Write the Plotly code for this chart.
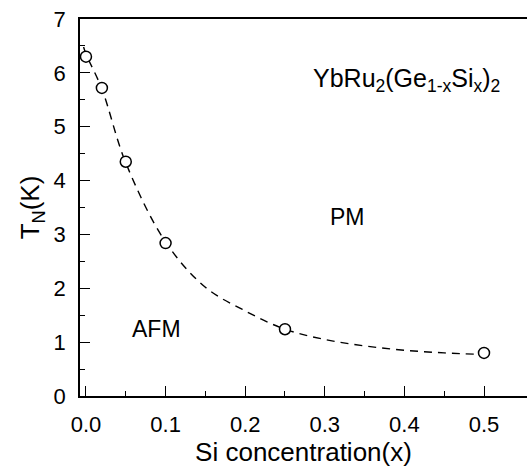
import plotly.graph_objects as go

# measured data points
si_x = [0.0, 0.02, 0.05, 0.10, 0.25, 0.50]
tn_k = [6.30, 5.72, 4.35, 2.84, 1.24, 0.80]

# dashed guide curve
fit_x = [-0.003, 0.0, 0.02, 0.05, 0.10, 0.15, 0.20, 0.25, 0.30, 0.35, 0.40, 0.45, 0.50]
fit_y = [6.48, 6.35, 5.70, 4.33, 2.86, 2.02, 1.58, 1.24, 1.05, 0.93, 0.85, 0.80, 0.77]

x_ticks = [0.0, 0.1, 0.2, 0.3, 0.4, 0.5]
x_tick_labels = ["0.0", "0.1", "0.2", "0.3", "0.4", "0.5"]
x_minor = [0.05, 0.15, 0.25, 0.35, 0.45]
y_ticks = [0, 1, 2, 3, 4, 5, 6, 7]
y_minor = [0.5, 1.5, 2.5, 3.5, 4.5, 5.5, 6.5]

FONT = "Liberation Sans, Arial, sans-serif"

fig = go.Figure()
fig.add_trace(go.Scatter(
    x=fit_x, y=fit_y, mode="lines", line_shape="spline",
    line=dict(color="black", width=1.4, dash="8px,6px"),
    showlegend=False, hoverinfo="skip"))
fig.add_trace(go.Scatter(
    x=si_x, y=tn_k, mode="markers",
    marker=dict(symbol="circle", size=11, color="white",
                line=dict(color="black", width=1.5)),
    showlegend=False))

fig.add_annotation(x=0.402, y=5.86, xref="x", yref="y",
                   text="YbRu<sub>2</sub>(Ge<sub>1-x</sub>Si<sub>x</sub>)<sub>2</sub>",
                   showarrow=False, font=dict(family=FONT, size=25, color="black"))
fig.add_annotation(x=0.329, y=3.32, xref="x", yref="y", text="PM",
                   showarrow=False, font=dict(family=FONT, size=23, color="black"))
fig.add_annotation(x=0.089, y=1.24, xref="x", yref="y", text="AFM",
                   showarrow=False, font=dict(family=FONT, size=23, color="black"))

fig.update_layout(
    width=527, height=469,
    margin=dict(l=80, r=0, t=19, b=73),
    paper_bgcolor="white", plot_bgcolor="white",
    font=dict(family=FONT, size=22, color="black"),
)
fig.update_xaxes(
    range=[-0.0075, 0.554], showgrid=False, zeroline=False,
    showline=True, linecolor="black", linewidth=1.5, mirror=True,
    ticks="inside", ticklen=10, tickwidth=1.3, tickcolor="black",
    tickvals=x_ticks, ticktext=x_tick_labels,
    tickfont=dict(size=22), ticklabelstandoff=8,
    minor=dict(tickvals=x_minor, ticks="inside", ticklen=5, tickwidth=1.3, tickcolor="black"),
    title=dict(text="Si concentration(x)", font=dict(size=26), standoff=4),
)
fig.update_yaxes(
    range=[0, 7], showgrid=False, zeroline=False,
    showline=True, linecolor="black", linewidth=1.5, mirror=False,
    ticks="inside", ticklen=10, tickwidth=1.3, tickcolor="black",
    tickvals=y_ticks, tickfont=dict(size=22), ticklabelstandoff=8,
    minor=dict(tickvals=y_minor, ticks="inside", ticklen=5, tickwidth=1.3, tickcolor="black"),
    title=dict(text="T<sub>N</sub>(K)", font=dict(size=26), standoff=6),
)

fig.write_html("out.html")
